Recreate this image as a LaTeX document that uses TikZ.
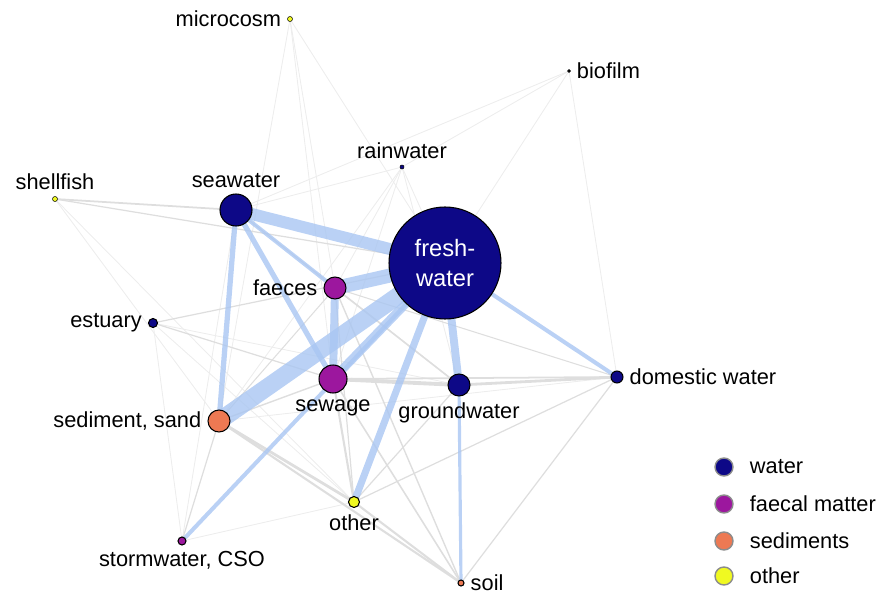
\documentclass[tikz,border=0pt]{standalone}
\usepackage{fontspec}
\setmainfont{Liberation Sans}
\usepackage{tikz}
\usepackage{xcolor}
\definecolor{waterc}{HTML}{0D0887}
\definecolor{faecalc}{HTML}{9C179E}
\definecolor{sedc}{HTML}{ED7953}
\definecolor{otherc}{HTML}{F0F921}
\definecolor{linkblue}{HTML}{A9C6F2}
\pgfdeclarelayer{bg}
\pgfsetlayers{bg,main}
\newcommand\pxr{0.2mm}
\newcommand\labfont{\fontsize{12.4}{14}\selectfont}
\tikzstyle{src}=[circle,draw=black,line width=0.6pt,inner sep=0pt,
  label distance=1pt]
\tikzstyle{blink}=[draw=linkblue,opacity=.8]
\tikzstyle{glink}=[draw=black!13]
\tikzstyle{flink}=[draw=black!7,line width=0.5pt]

\begin{document}
\begin{tikzpicture}
  [x=\pxr,y=-\pxr,every label/.style={font=\labfont}]
\useasboundingbox (0,0) rectangle (876,594);
\tikzset{key/.style={circle,draw=black!45,line width=0.8pt,minimum size=18*\pxr,inner sep=0pt}}
% sources
\node[src,fill=waterc,minimum size=112*\pxr,text=white,align=center,
  font=\fontsize{13.5}{17}\selectfont] (fresh) at (445,263) {fresh-\\water};
\node[src,fill=waterc,minimum size=32*\pxr,label=above:seawater] (sea) at (236,210) {};
\node[src,fill=faecalc,minimum size=22*\pxr,label=left:faeces] (faeces) at (335,288) {};
\node[src,fill=faecalc,minimum size=28*\pxr,label=below:sewage] (sewage) at (333,379) {};
\node[src,fill=waterc,minimum size=22*\pxr,label=below:groundwater] (ground) at (459,385) {};
\node[src,fill=sedc,minimum size=22*\pxr,label=left:{sediment, sand}] (sed) at (219,421) {};
\node[src,fill=waterc,minimum size=12*\pxr,label=right:domestic water] (dom) at (617,377) {};
\node[src,fill=waterc,minimum size=9*\pxr,label=left:estuary] (est) at (153,323) {};
\node[src,fill=otherc,minimum size=11*\pxr,label=below:other] (other) at (354,502) {};
\node[src,fill=faecalc,minimum size=8*\pxr,label=below:{stormwater, CSO}] (storm) at (182,541) {};
\node[src,fill=sedc,minimum size=6*\pxr,label=right:soil] (soil) at (461,583) {};
\node[src,fill=otherc,minimum size=5*\pxr,line width=0.3pt,label=left:microcosm] (micro) at (290,19) {};
\node[src,fill=otherc,minimum size=5*\pxr,line width=0.3pt,label=above:shellfish] (shell) at (55,199) {};
\node[src,fill=waterc,minimum size=4*\pxr,line width=0.3pt,label=above:rainwater] (rain) at (402,167) {};
\node[src,fill=black,minimum size=3*\pxr,line width=0.3pt,label=right:biofilm] (bio) at (569,71) {};
% links
\begin{pgfonlayer}{bg}
\draw[flink] (micro.center) -- (sed.center); \draw[flink] (micro.center) -- (faeces.center);
\draw[flink] (micro.center) -- (sewage.center); \draw[flink] (micro.center) -- (fresh.center);
\draw[flink] (bio.center) -- (sea.center); \draw[flink] (bio.center) -- (rain.center);
\draw[flink] (bio.center) -- (fresh.center); \draw[flink] (bio.center) -- (dom.center);
\draw[flink] (rain.center) -- (sea.center); \draw[flink] (rain.center) -- (faeces.center);
\draw[flink] (rain.center) -- (sewage.center); \draw[flink] (rain.center) -- (sed.center);
\draw[flink] (rain.center) -- (ground.center); \draw[flink] (rain.center) -- (fresh.center);
\draw[flink] (shell.center) -- (sed.center); \draw[flink] (shell.center) -- (other.center);
\draw[flink] (storm.center) -- (sea.center); \draw[flink] (storm.center) -- (est.center);
\draw[flink] (storm.center) -- (other.center); \draw[flink] (est.center) -- (ground.center);
\draw[flink] (est.center) -- (other.center); \draw[flink] (dom.center) -- (sed.center);
\draw[glink,line width=1pt] (shell.center) -- (sea.center);
\draw[glink,line width=0.7pt] (shell.center) -- (fresh.center);
\draw[glink,line width=0.7pt] (est.center) -- (fresh.center);
\draw[glink,line width=0.7pt] (est.center) -- (sewage.center);
\draw[glink,line width=2.2pt] (sewage.center) -- (ground.center);
\draw[glink,line width=1.6pt] (ground.center) -- (dom.center);
\draw[glink,line width=1pt] (sewage.center) -- (dom.center);
\draw[glink,line width=1.6pt] (sed.center) -- (other.center);
\draw[glink,line width=1.2pt] (sed.center) -- (soil.center);
\draw[glink,line width=1.2pt] (other.center) -- (soil.center);
\draw[glink,line width=1.2pt] (sewage.center) -- (other.center);
\draw[glink,line width=0.9pt] (sewage.center) -- (soil.center);
\draw[glink,line width=0.8pt] (faeces.center) -- (soil.center);
\draw[glink,line width=0.9pt] (faeces.center) -- (ground.center);
\draw[glink,line width=0.6pt] (faeces.center) -- (dom.center);
\draw[glink,line width=0.7pt] (faeces.center) -- (other.center);
\draw[glink,line width=0.8pt] (sed.center) -- (sewage.center);
\draw[glink,line width=0.6pt] (sed.center) -- (faeces.center);
\draw[glink,line width=0.7pt] (storm.center) -- (sed.center);
\draw[glink,line width=0.7pt] (ground.center) -- (other.center);
\draw[glink,line width=0.6pt] (sea.center) -- (ground.center);
\draw[glink,line width=0.7pt] (dom.center) -- (soil.center);
\draw[glink,line width=0.7pt] (dom.center) -- (other.center);
\draw[blink,line width=10pt] (fresh.center) -- (sed.center);
\draw[blink,line width=8pt] (fresh.center) -- (faeces.center);
\draw[blink,line width=6.8pt] (fresh.center) -- (sea.center);
\draw[blink,line width=5pt] (fresh.center) -- (sewage.center);
\draw[blink,line width=4.5pt] (fresh.center) -- (ground.center);
\draw[blink,line width=4pt] (fresh.center) -- (other.center);
\draw[blink,line width=2.3pt] (fresh.center) -- (storm.center);
\draw[blink,line width=2.3pt] (fresh.center) -- (dom.center);
\draw[blink,line width=3pt] (sea.center) -- (sed.center);
\draw[blink,line width=3pt] (sea.center) -- (sewage.center);
\draw[blink,line width=2.3pt] (sea.center) -- (faeces.center);
\draw[blink,line width=4.5pt] (faeces.center) -- (sewage.center);
\draw[blink,line width=1.8pt] (ground.center) -- (soil.center);
\end{pgfonlayer}
% legend
\node[key,fill=waterc] (kw) at (724,467) {};
\node[key,fill=faecalc] (kf) at (724,504) {};
\node[key,fill=sedc] (ks) at (724,541) {};
\node[key,fill=otherc] (ko) at (724,576) {};
\tikzset{keytext/.style={right=10*\pxr,font=\labfont}}
\node[keytext] at (kw.east) {water};
\node[keytext] at (kf.east) {faecal matter};
\node[keytext] at (ks.east) {sediments};
\node[keytext] at (ko.east) {other};
\end{tikzpicture}
\end{document}
